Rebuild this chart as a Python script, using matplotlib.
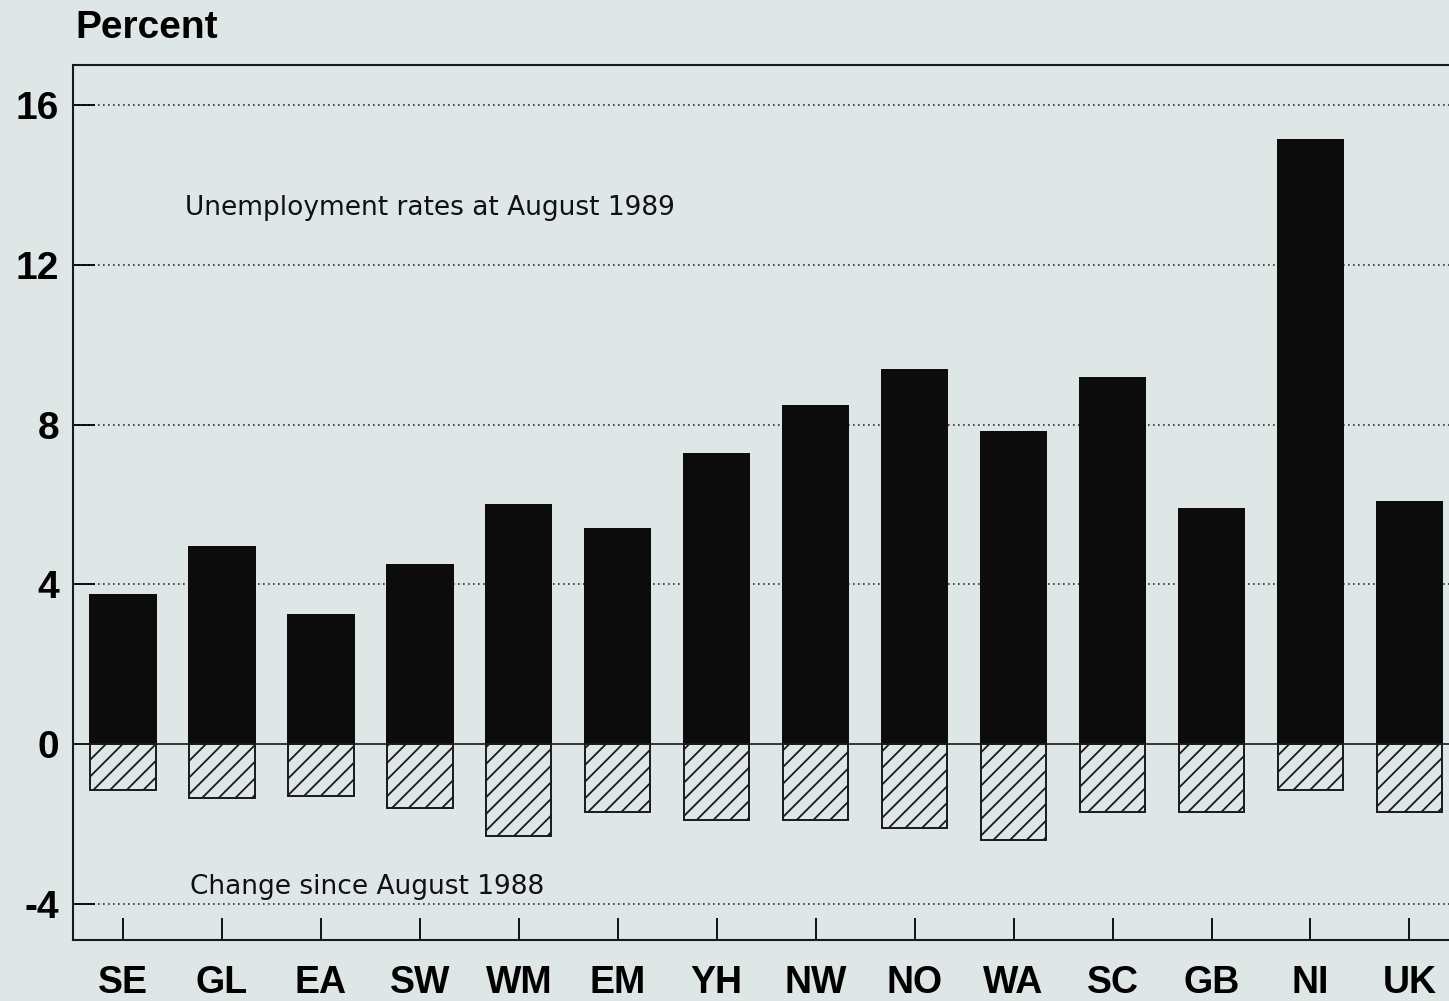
import numpy as np
import matplotlib.pyplot as plt

regions = ['SE', 'GL', 'EA', 'SW', 'WM', 'EM', 'YH', 'NW', 'NO', 'WA', 'SC', 'GB', 'NI', 'UK']
rate_1989 = [3.75, 4.95, 3.25, 4.5, 6.0, 5.4, 7.3, 8.5, 9.4, 7.85, 9.2, 5.9, 15.15, 6.1]
change_since_1988 = [-1.15, -1.35, -1.3, -1.6, -2.3, -1.7, -1.9, -1.9, -2.1, -2.4, -1.7, -1.7, -1.15, -1.7]
yticks = [-4, 0, 4, 8, 12, 16]

bg = '#dfe6e6'
plt.rcParams['font.family'] = ['Liberation Sans', 'DejaVu Sans']
plt.rcParams['hatch.linewidth'] = 1.3

fig = plt.figure(figsize=(14.49, 10.01), dpi=100, facecolor=bg)
ax = fig.add_axes([0.0504, 0.061, 0.9496, 0.874], facecolor=bg)

x = np.arange(len(regions))
ax.bar(x, rate_1989, width=0.68, color='#0c0c0c', zorder=3)
ax.bar(x, change_since_1988, width=0.66, color=bg, edgecolor='#1a1a1a',
       hatch='//', linewidth=1.4, zorder=3)

for v in [4, 8, 12, 16, -4]:
    ax.axhline(v, color='#333333', linestyle=(0, (1, 2)), linewidth=1.2, zorder=1)
ax.axhline(0, color='#1a1a1a', linewidth=1.2, zorder=2)

ax.set_xlim(-0.505, 13.4)
ax.set_ylim(-4.9, 17.0)
ax.set_yticks(yticks)
ax.set_yticklabels([str(t) for t in yticks], fontsize=28, fontweight='bold')
ax.set_xticks(x)
ax.set_xticklabels(regions, fontsize=27, fontweight='bold')
ax.tick_params(axis='x', direction='in', length=16, width=1.3, pad=18)
ax.tick_params(axis='y', direction='in', length=16, width=1.3, pad=10)
for side in ['left', 'top', 'bottom']:
    ax.spines[side].set_linewidth(1.5)
    ax.spines[side].set_color('#1a1a1a')
ax.spines['right'].set_visible(False)

ax.text(0.63, 13.42, 'Unemployment rates at August 1989', fontsize=19,
        fontfamily='DejaVu Sans', color='#111111', va='center')
ax.text(0.68, -3.58, 'Change since August 1988', fontsize=19,
        fontfamily='DejaVu Sans', color='#111111', va='center')
fig.text(0.052, 0.972, 'Percent', fontsize=28, fontweight='bold', va='center')

fig.savefig('out.png', dpi=100, facecolor=bg)
